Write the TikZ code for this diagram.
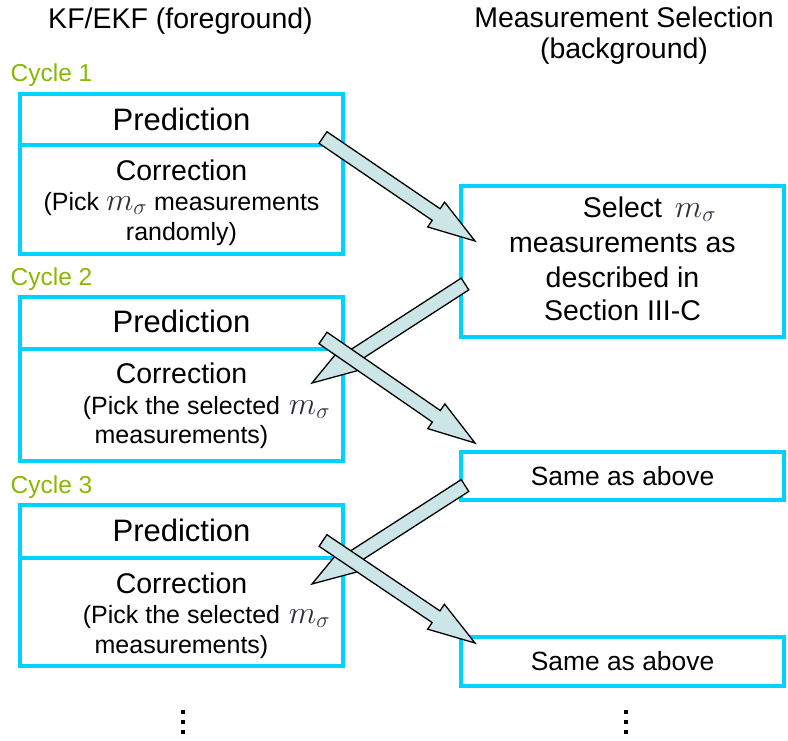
\documentclass[tikz,border=0pt]{standalone}
\usepackage{fix-cm}
\usepackage{fontspec}
\setmainfont{Liberation Sans}
\usetikzlibrary{calc}

\definecolor{boxblue}{RGB}{0,210,255}
\definecolor{cyclegreen}{RGB}{136,184,0}
\definecolor{arrowfill}{RGB}{204,230,232}
\definecolor{mathgrey}{RGB}{45,45,60}

% font size in pt, baselineskip equal to it
\newcommand\fsz[1]{\fontsize{#1}{#1}\selectfont}
% the symbol m_sigma, set a little larger than the text round it
\newcommand\msig{{\fsz{32}\color{mathgrey}$m_\sigma$}}

% block arrow from #1 (tail centre) to #2 (tip)
\newcommand\blockarrow[2]{%
  \coordinate (bah) at ($(#2)!47pt!(#1)$);
  \filldraw[blockarr]
    ($(#1)!7pt!90:(#2)$) -- ($(bah)!7pt!90:(#2)$) -- ($(bah)!15pt!90:(#2)$)
    -- (#2)
    -- ($(bah)!15pt!-90:(#2)$) -- ($(bah)!7pt!-90:(#2)$) -- ($(#1)!7pt!-90:(#2)$)
    -- cycle;}

\tikzset{
  stage/.style={draw=boxblue, line width=4pt, minimum width=323pt, inner sep=0pt, outer sep=0pt},
  lbl/.style={inner sep=0pt, anchor=base},
  cyc/.style={inner sep=0pt, anchor=base west, text=cyclegreen, font=\fsz{24.5}},
  blockarr/.style={fill=arrowfill, draw=black, line width=1.3pt, line join=miter},
  dotsq/.style={fill=black, minimum size=4pt, inner sep=0pt, outer sep=0pt},
}

\begin{document}
\begin{tikzpicture}[x=1pt, y=-1pt]
\useasboundingbox (0,0) rectangle (788,740);

% column headings
\node[lbl, font=\fsz{28.5}] (hl) at (180.5,28) {KF/EKF (foreground)};
\node[lbl, font=\fsz{28.5}] (hr1) at (624,27) {Measurement Selection};
\node[lbl, font=\fsz{28.5}] (hr2) at (624,58) {(background)};

% cycle labels
\node[cyc] (cy1) at (10.5,81) {Cycle 1};
\node[cyc] (cy2) at (10.5,285) {Cycle 2};
\node[cyc] (cy3) at (10.5,493) {Cycle 3};

% filter boxes, cycle 1
\node[stage, minimum height=51pt] (pred1) at (181.5,119.5) {};
\node[stage, minimum height=109pt] (corr1) at (181.5,199.5) {};
\node[lbl, font=\fsz{31}] (pt1) at (181.5,130) {Prediction};
\node[lbl, font=\fsz{28.5}] (ct1) at (181.5,180) {Correction};
\node[lbl, font=\fsz{25}] (ca1) at (181.5,210) {(Pick \msig{} measurements};
\node[lbl, font=\fsz{25}] (cb1) at (181.5,240) {randomly)};

% filter boxes, cycle 2
\node[stage, minimum height=52pt] (pred2) at (181.5,323) {};
\node[stage, minimum height=112pt] (corr2) at (181.5,405) {};
\node[lbl, font=\fsz{31}] (pt2) at (181.5,332) {Prediction};
\node[lbl, font=\fsz{28.5}] (ct2) at (181.5,383) {Correction};
\node[lbl, font=\fsz{25}] (ca2) at (181.5,414) {(Pick the selected\rlap{\hspace{0.35em}\msig}};
\node[lbl, font=\fsz{25}] (cb2) at (181.5,443) {measurements)};

% filter boxes, cycle 3
\node[stage, minimum height=53pt] (pred3) at (181.5,531.5) {};
\node[stage, minimum height=108pt] (corr3) at (181.5,612) {};
\node[lbl, font=\fsz{31}] (pt3) at (181.5,541) {Prediction};
\node[lbl, font=\fsz{28.5}] (ct3) at (181.5,593) {Correction};
\node[lbl, font=\fsz{25}] (ca3) at (181.5,623) {(Pick the selected\rlap{\hspace{0.35em}\msig}};
\node[lbl, font=\fsz{25}] (cb3) at (181.5,653) {measurements)};

% measurement selection boxes
\node[stage, minimum height=151pt] (sel) at (622.5,261.5) {};
\node[lbl, font=\fsz{28.5}] (s1) at (622.5,217) {Select\rlap{\hspace{0.45em}\msig}};
\node[lbl, font=\fsz{28.5}] (s2) at (622.5,252) {measurements as};
\node[lbl, font=\fsz{28.5}] (s3) at (622.5,287) {described in};
\node[lbl, font=\fsz{28.5}] (s4) at (622.5,320) {Section III-C};

\node[stage, minimum height=48pt] (same1) at (622.5,476) {};
\node[lbl, font=\fsz{26.4}] (sa1) at (622.5,485) {Same as above};
\node[stage, minimum height=49pt] (same2) at (622.5,661.5) {};
\node[lbl, font=\fsz{26.4}] (sa2) at (622.5,670) {Same as above};

% connector end points
\coordinate (a1s) at (323,137.5);  \coordinate (a1e) at (475,241);
\coordinate (a2s) at (465,284);    \coordinate (a2e) at (312,383);
\coordinate (a3s) at (323,338);    \coordinate (a3e) at (475,443);
\coordinate (a4s) at (465,485.5);  \coordinate (a4e) at (312,584);
\coordinate (a5s) at (323,540.5);  \coordinate (a5e) at (475,643);

\blockarrow{a1s}{a1e}
\blockarrow{a2s}{a2e}
\blockarrow{a3s}{a3e}
\blockarrow{a4s}{a4e}
\blockarrow{a5s}{a5e}

% continuation dots
\node[dotsq] (ld1) at (183,712.3) {};
\node[dotsq] (ld2) at (183,722.3) {};
\node[dotsq] (ld3) at (183,731.7) {};
\node[dotsq] (rd1) at (625.7,712.3) {};
\node[dotsq] (rd2) at (625.7,722.3) {};
\node[dotsq] (rd3) at (625.7,731.7) {};
\end{tikzpicture}
\end{document}
